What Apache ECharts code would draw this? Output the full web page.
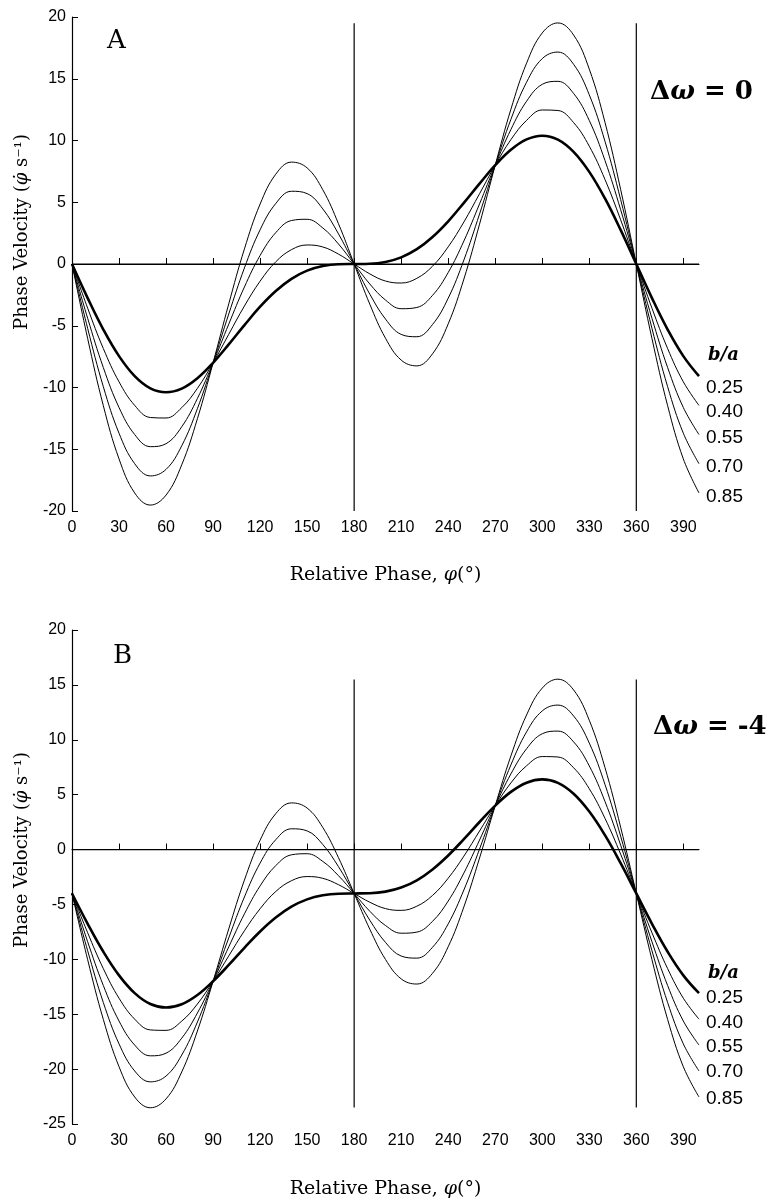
<!DOCTYPE html>
<html>
<head>
<meta charset="utf-8">
<script src="https://cdn.jsdelivr.net/npm/echarts@6/dist/echarts.min.js"></script>
<style>
html,body{margin:0;padding:0;background:#fff;}
#chart{width:766px;height:1203px;}
</style>
</head>
<body>
<div id="chart"></div>
<script>
// Relative phase (degrees)
const phase = [0,10,20,30,40,50,60,70,80,90,100,110,120,130,140,150,160,170,180,190,200,210,220,230,240,250,260,270,280,290,300,310,320,330,340,350,360,370,380,390,400];
const xTicks = [0,30,60,90,120,150,180,210,240,270,300,330,360,390];
const ratios = ['0.25','0.40','0.55','0.70','0.85'];

// Panel A (Δω = 0)
const A_025 = [0,-2.76,-5.31,-7.46,-9.08,-10.07,-10.39,-10.09,-9.25,-8.00,-6.51,-4.95,-3.46,-2.19,-1.20,-0.54,-0.17,-0.02,0,0.02,0.17,0.54,1.20,2.19,3.46,4.95,6.51,8.00,9.25,10.09,10.39,10.07,9.08,7.46,5.31,2.76,0,-2.76,-5.31,-7.46,-9.08];
const A_040 = [0,-3.58,-6.85,-9.54,-11.45,-12.43,-12.47,-11.63,-10.07,-8.00,-5.69,-3.40,-1.39,0.18,1.16,1.54,1.38,0.80,0,-0.80,-1.38,-1.54,-1.16,-0.18,1.39,3.40,5.69,8.00,10.07,11.63,12.47,12.43,11.45,9.54,6.85,3.58,0,-3.58,-6.85,-9.54,-11.45];
const A_055 = [0,-4.40,-8.39,-11.62,-13.81,-14.79,-14.55,-13.18,-10.89,-8.00,-4.87,-1.86,0.69,2.54,3.52,3.62,2.92,1.62,0,-1.62,-2.92,-3.62,-3.52,-2.54,-0.69,1.86,4.87,8.00,10.89,13.18,14.55,14.79,13.81,11.62,8.39,4.40,0,-4.40,-8.39,-11.62,-13.81];
const A_070 = [0,-5.22,-9.94,-13.70,-16.17,-17.16,-16.63,-14.72,-11.71,-8.00,-4.05,-0.32,2.77,4.90,5.89,5.70,4.46,2.44,0,-2.44,-4.46,-5.70,-5.89,-4.90,-2.77,0.32,4.05,8.00,11.71,14.72,16.63,17.16,16.17,13.70,9.94,5.22,0,-5.22,-9.94,-13.70,-16.17];
const A_085 = [0,-6.04,-11.48,-15.78,-18.54,-19.52,-18.71,-16.26,-12.53,-8.00,-3.23,1.22,4.85,7.27,8.25,7.78,6.01,3.26,0,-3.26,-6.01,-7.78,-8.25,-7.27,-4.85,-1.22,3.23,8.00,12.53,16.26,18.71,19.52,18.54,15.78,11.48,6.04,0,-6.04,-11.48,-15.78,-18.54];

// Panel B (Δω = -4)
const B_025 = [-4,-6.76,-9.31,-11.46,-13.08,-14.07,-14.39,-14.09,-13.25,-12.00,-10.51,-8.95,-7.46,-6.19,-5.20,-4.54,-4.17,-4.02,-4,-3.98,-3.83,-3.46,-2.80,-1.81,-0.54,0.95,2.51,4.00,5.25,6.09,6.39,6.07,5.08,3.46,1.31,-1.24,-4,-6.76,-9.31,-11.46,-13.08];
const B_040 = [-4,-7.58,-10.85,-13.54,-15.45,-16.43,-16.47,-15.63,-14.07,-12.00,-9.69,-7.40,-5.39,-3.82,-2.84,-2.46,-2.62,-3.20,-4,-4.80,-5.38,-5.54,-5.16,-4.18,-2.61,-0.60,1.69,4.00,6.07,7.63,8.47,8.43,7.45,5.54,2.85,-0.42,-4,-7.58,-10.85,-13.54,-15.45];
const B_055 = [-4,-8.40,-12.39,-15.62,-17.81,-18.79,-18.55,-17.18,-14.89,-12.00,-8.87,-5.86,-3.31,-1.46,-0.48,-0.38,-1.08,-2.38,-4,-5.62,-6.92,-7.62,-7.52,-6.54,-4.69,-2.14,0.87,4.00,6.89,9.18,10.55,10.79,9.81,7.62,4.39,0.40,-4,-8.40,-12.39,-15.62,-17.81];
const B_070 = [-4,-9.22,-13.94,-17.70,-20.17,-21.16,-20.63,-18.72,-15.71,-12.00,-8.05,-4.32,-1.23,0.90,1.89,1.70,0.46,-1.56,-4,-6.44,-8.46,-9.70,-9.89,-8.90,-6.77,-3.68,0.05,4.00,7.71,10.72,12.63,13.16,12.17,9.70,5.94,1.22,-4,-9.22,-13.94,-17.70,-20.17];
const B_085 = [-4,-10.04,-15.48,-19.78,-22.54,-23.52,-22.71,-20.26,-16.53,-12.00,-7.23,-2.78,0.85,3.27,4.25,3.78,2.01,-0.74,-4,-7.26,-10.01,-11.78,-12.25,-11.27,-8.85,-5.22,-0.77,4.00,8.53,12.26,14.71,15.52,14.54,11.78,7.48,2.04,-4,-10.04,-15.48,-19.78,-22.54];

// Guide lines: vertical at these phases, spanning these ranges
const guidePhases = [180, 360];
const guideRangeA = [-20, 19.5];
const guideRangeB = [-23.5, 15.5];
const zeroSpan = [0, 400];

const panelA = [A_025, A_040, A_055, A_070, A_085];
const panelB = [B_025, B_040, B_055, B_070, B_085];

const chart = echarts.init(document.getElementById('chart'), null, {renderer: 'canvas'});

const SANS = 'Liberation Sans';
const SERIF = 'DejaVu Serif';
const GRID_LEFT = 72, GRID_W = 627, GRID_H = 494;

function xAxisFor(idx, gap) {
  return {
    type: 'value', gridIndex: idx, min: 0, max: 400, interval: 30,
    axisLine: {lineStyle: {color: '#000', width: 1.2}},
    axisTick: {inside: true, length: 6, lineStyle: {color: '#000'}, customValues: xTicks},
    axisLabel: {color: '#000', fontFamily: SANS, fontSize: 16, margin: 9, customValues: xTicks},
    splitLine: {show: false},
    name: 'Relative Phase, {i|φ}(°)',
    nameLocation: 'middle', nameGap: gap,
    nameTextStyle: {color: '#000', fontFamily: SERIF, fontSize: 19,
      rich: {i: {fontFamily: SERIF, fontStyle: 'italic', fontSize: 19, color: '#000'}}}
  };
}
function yAxisFor(idx, min, max) {
  return {
    type: 'value', gridIndex: idx, min: min, max: max, interval: 5,
    axisLine: {show: true, lineStyle: {color: '#000', width: 1.2}},
    axisTick: {show: true, inside: true, length: 6, lineStyle: {color: '#000'}},
    axisLabel: {color: '#000', fontFamily: SANS, fontSize: 16, margin: 6},
    splitLine: {show: false}
  };
}

const series = [];
function addPanel(idx, curves, range) {
  guidePhases.forEach(p => {
    series.push({type: 'line', xAxisIndex: idx, yAxisIndex: idx, data: [[p, range[0]], [p, range[1]]],
      symbol: 'none', silent: true, lineStyle: {color: '#000', width: 1.2}});
  });
  series.push({type: 'line', xAxisIndex: idx, yAxisIndex: idx, data: [[zeroSpan[0], 0], [zeroSpan[1], 0]],
    symbol: 'none', silent: true, lineStyle: {color: '#000', width: 1.2}});
  curves.forEach((arr, k) => {
    series.push({
      type: 'line', xAxisIndex: idx, yAxisIndex: idx, name: ratios[k],
      data: phase.map((x, i) => [x, arr[i]]),
      smooth: 0.4, symbol: 'none', silent: true,
      lineStyle: {color: '#000', width: k === 0 ? 2.6 : 1}
    });
  });
}
addPanel(0, panelA, guideRangeA);
addPanel(1, panelB, guideRangeB);

function txt(x, y, text, font, extra) {
  return {type: 'text', x: x, y: y, silent: true,
    style: Object.assign({text: text, font: font, fill: '#000', align: 'left', verticalAlign: 'middle'}, extra || {})};
}
const deltaRich = {
  d: {fontFamily: SERIF, fontWeight: 'bold', fontSize: 26, color: '#000'},
  w: {fontFamily: SERIF, fontWeight: 'bold', fontStyle: 'italic', fontSize: 26, color: '#000'}
};
const yTitleRich = {
  n: {fontFamily: SERIF, fontSize: 18, color: '#000'},
  i: {fontFamily: SERIF, fontStyle: 'italic', fontSize: 18, color: '#000'}
};
const labelYsA = [388, 412, 438, 467, 497];
const labelYsB = [998, 1023, 1047, 1072, 1099];
const graphics = [
  txt(107, 41, 'A', '26px ' + SERIF),
  txt(113, 656, 'B', '26px ' + SERIF),
  {type: 'text', x: 650, y: 92, silent: true, style: {text: '{d|Δ}{w|ω}{d| = 0}', rich: deltaRich, verticalAlign: 'middle', align: 'left'}},
  {type: 'text', x: 653, y: 727, silent: true, style: {text: '{d|Δ}{w|ω}{d| = -4}', rich: deltaRich, verticalAlign: 'middle', align: 'left'}},
  {type: 'text', x: 22, y: 232, rotation: Math.PI / 2, silent: true,
    style: {text: '{n|Phase Velocity (}{i|φ̇}{n| s⁻¹)}', rich: yTitleRich, align: 'center', verticalAlign: 'middle'}},
  {type: 'text', x: 22, y: 850, rotation: Math.PI / 2, silent: true,
    style: {text: '{n|Phase Velocity (}{i|φ̇}{n| s⁻¹)}', rich: yTitleRich, align: 'center', verticalAlign: 'middle'}},
  txt(708, 355, 'b/a', 'italic bold 18px ' + SERIF),
  txt(708, 973, 'b/a', 'italic bold 18px ' + SERIF)
];
ratios.forEach((r, k) => {
  graphics.push(txt(706, labelYsA[k], r, '19px ' + SANS));
  graphics.push(txt(706, labelYsB[k], r, '19px ' + SANS));
});

chart.setOption({
  animation: false,
  backgroundColor: '#fff',
  grid: [
    {left: GRID_LEFT, top: 17, width: GRID_W, height: GRID_H},
    {left: GRID_LEFT, top: 630, width: GRID_W, height: GRID_H}
  ],
  xAxis: [xAxisFor(0, 55), xAxisFor(1, 56)],
  yAxis: [yAxisFor(0, -20, 20), yAxisFor(1, -25, 20)],
  series: series,
  graphic: graphics
});
</script>
</body>
</html>
